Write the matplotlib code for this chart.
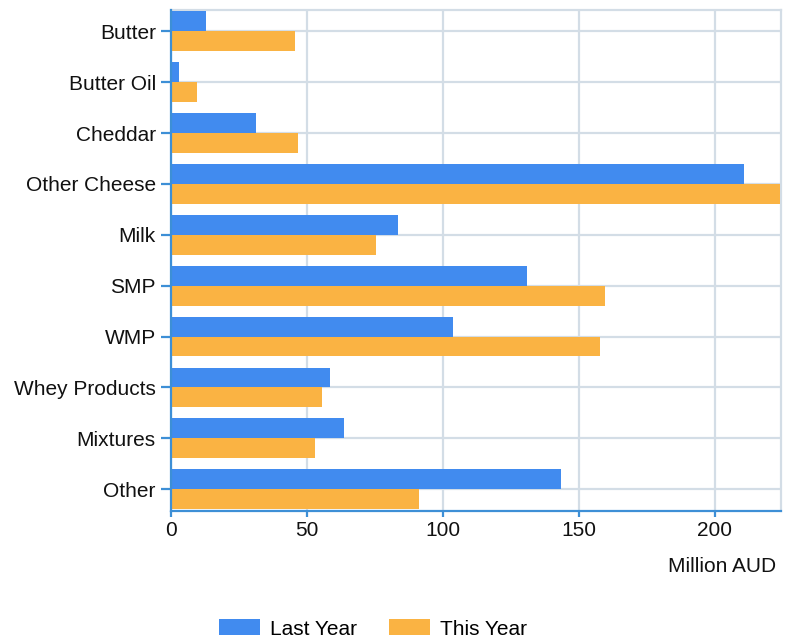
import numpy as np
import matplotlib.pyplot as plt
from matplotlib.patches import Patch

plt.rcParams['font.family'] = ['Liberation Sans', 'DejaVu Sans']

# Data
categories = ['Butter', 'Butter Oil', 'Cheddar', 'Other Cheese', 'Milk',
              'SMP', 'WMP', 'Whey Products', 'Mixtures', 'Other']
last_year = [12.8, 3.1, 31.3, 210.7, 83.4, 130.9, 103.7, 58.3, 63.8, 143.5]
this_year = [45.6, 9.7, 46.6, 224.0, 75.3, 159.6, 157.7, 55.7, 53.1, 91.1]
series_names = ['Last Year', 'This Year']
colors = ['#418BEF', '#FAB343']
axis_blue = '#3D8FD6'
grid_col = '#D3DDE6'

fig = plt.figure(figsize=(7.9, 6.39), dpi=100)
ax = fig.add_axes([0.2165, 0.2003, 0.7721, 0.7841])

y = np.arange(len(categories))
h = 0.39
ax.barh(y - h / 2, last_year, height=h, color=colors[0], zorder=3)
ax.barh(y + h / 2, this_year, height=h, color=colors[1], zorder=3)

ax.set_xlim(0, max(this_year) + 0.4)
ax.set_ylim(9.43, -0.42)
ax.set_yticks(y)
ax.set_yticklabels(categories)
ax.set_xticks([0, 50, 100, 150, 200])

ax.grid(True, color=grid_col, linewidth=1.6, zorder=0)
for s in ['top', 'right']:
    ax.spines[s].set_color(grid_col)
    ax.spines[s].set_linewidth(1.6)
for s in ['left', 'bottom']:
    ax.spines[s].set_color(axis_blue)
    ax.spines[s].set_linewidth(1.6)
    ax.spines[s].set_zorder(4)

ax.tick_params(axis='both', colors=axis_blue, width=1.6,
               labelcolor='#111111', labelsize=15)
ax.tick_params(axis='y', pad=4, length=7)
ax.tick_params(axis='x', pad=3, length=4.5)

fig.text(776 / 790, 1 - 566 / 639, 'Million AUD', ha='right', va='center',
         fontsize=15, color='#111111')

handles = [Patch(facecolor=c, label=n) for c, n in zip(colors, series_names)]
fig.legend(handles=handles, loc='center', bbox_to_anchor=(373 / 790, 1 - 629 / 639),
           ncol=2, frameon=False, fontsize=15, handlelength=1.97, handleheight=0.8,
           columnspacing=1.5, handletextpad=0.48)

fig.savefig('out.png', dpi=100)
